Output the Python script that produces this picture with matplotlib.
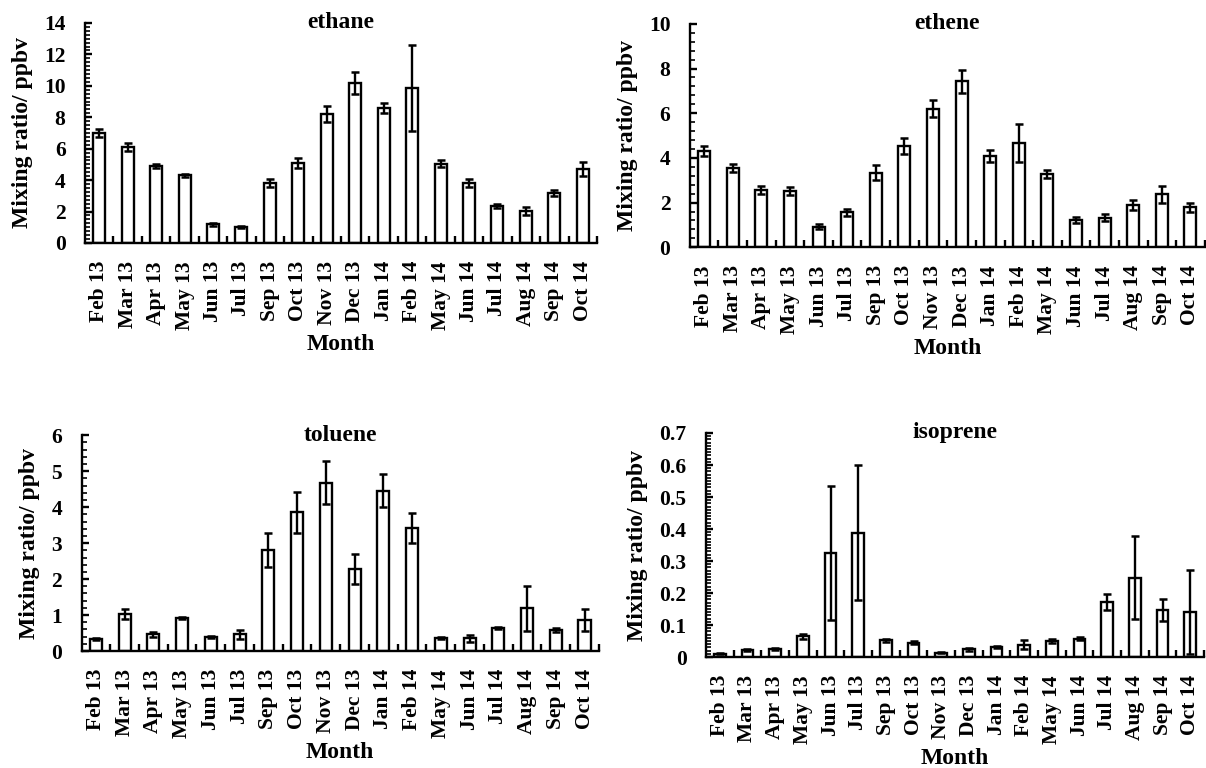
import numpy as np
import matplotlib
matplotlib.use('Agg')
import matplotlib.pyplot as plt
from matplotlib.ticker import MultipleLocator, FixedLocator, FuncFormatter

plt.rcParams['font.family'] = ['Liberation Serif', 'DejaVu Serif']
plt.rcParams['font.weight'] = 'bold'

# Months on the x axis (same for every panel)
months = ['Feb 13', 'Mar 13', 'Apr 13', 'May 13', 'Jun 13', 'Jul 13',
          'Sep 13', 'Oct 13', 'Nov 13', 'Dec 13', 'Jan 14', 'Feb 14',
          'May 14', 'Jun 14', 'Jul 14', 'Aug 14', 'Sep 14', 'Oct 14']

# Monthly mean mixing ratios (ppbv) and their error bars
ethane = [7.0, 6.1, 4.9, 4.3, 1.2, 1.0, 3.8, 5.1, 8.2, 10.2, 8.6, 9.85,
          5.05, 3.8, 2.35, 2.05, 3.2, 4.7]
ethane_err = [0.25, 0.25, 0.15, 0.12, 0.1, 0.06, 0.25, 0.3, 0.5, 0.7, 0.3, 2.75,
              0.2, 0.25, 0.15, 0.25, 0.2, 0.45]

ethene = [4.3, 3.55, 2.58, 2.52, 0.93, 1.57, 3.34, 4.54, 6.2, 7.42, 4.09, 4.66,
          3.28, 1.22, 1.33, 1.9, 2.37, 1.79]
ethene_err = [0.23, 0.18, 0.18, 0.17, 0.1, 0.15, 0.35, 0.37, 0.37, 0.5, 0.27, 0.85,
              0.17, 0.15, 0.16, 0.22, 0.39, 0.21]

toluene = [0.34, 1.04, 0.46, 0.93, 0.39, 0.46, 2.81, 3.86, 4.68, 2.29, 4.46, 3.43,
           0.36, 0.35, 0.64, 1.19, 0.59, 0.86]
toluene_err = [0.02, 0.14, 0.07, 0.03, 0.04, 0.12, 0.47, 0.57, 0.6, 0.42, 0.46, 0.42,
               0.03, 0.1, 0.04, 0.63, 0.05, 0.31]

isoprene = [0.010, 0.021, 0.024, 0.065, 0.325, 0.389, 0.052, 0.045, 0.014, 0.024,
            0.031, 0.039, 0.050, 0.057, 0.172, 0.248, 0.146, 0.141]
isoprene_err = [0.002, 0.003, 0.003, 0.008, 0.21, 0.21, 0.005, 0.004, 0.002, 0.004,
                0.004, 0.014, 0.007, 0.005, 0.024, 0.13, 0.035, 0.13]

# name, values, errors, y max, major step, minor step, axes rect
panels = [
    ('ethane', ethane, ethane_err, 14, 2, 0.25, [0.0705, 0.6836, 0.4245, 0.2865]),
    ('ethene', ethene, ethene_err, 10, 2, 0.4, [0.572, 0.678, 0.427, 0.291]),
    ('toluene', toluene, toluene_err, 6, 1, 0.2, [0.0676, 0.1523, 0.429, 0.281]),
    ('isoprene', isoprene, isoprene_err, 0.7, 0.1, 0.01, [0.5854, 0.1445, 0.413, 0.2917]),
]

fig = plt.figure(figsize=(12.06, 7.68), dpi=100)
x = np.arange(len(months))

for name, vals, err, ymax, step, minor, rect in panels:
    ax = fig.add_axes(rect)
    ax.bar(x, vals, width=0.42, color='white', edgecolor='black', linewidth=1.7,
           yerr=err, error_kw=dict(ecolor='black', elinewidth=1.7, capsize=3, capthick=1.8))
    ax.set_xlim(-0.5, len(months) - 0.5)
    ax.set_ylim(0, ymax)

    for side in ['top', 'right']:
        ax.spines[side].set_visible(False)
    for side in ['left', 'bottom']:
        ax.spines[side].set_linewidth(1.7)

    # x axis: labels at bar centres, short inward ticks between categories
    ax.set_xticks(x)
    ax.set_xticklabels(months, rotation=90)
    ax.tick_params(axis='x', which='major', length=0, pad=13, labelsize=15.5)
    ax.xaxis.set_minor_locator(FixedLocator(np.arange(0.5, len(months), 1)))
    ax.tick_params(axis='x', which='minor', direction='in', length=5, width=1.7)

    # y axis: inward major and minor ticks
    ax.yaxis.set_major_locator(MultipleLocator(step))
    ax.yaxis.set_minor_locator(MultipleLocator(minor))
    ax.yaxis.set_major_formatter(FuncFormatter(lambda v, p: '%g' % round(v, 3)))
    ax.tick_params(axis='y', which='major', direction='in', length=5, width=1.7,
                   pad=14, labelsize=15.5)
    ax.tick_params(axis='y', which='minor', direction='in', length=3.5, width=1.2)

    ax.set_ylabel('Mixing ratio/ ppbv', fontsize=17, fontweight='bold', labelpad=8)
    ax.set_xlabel('Month', fontsize=17, fontweight='bold', labelpad=3)
    ax.text(0.5, 1.0, name, transform=ax.transAxes, ha='center', va='center',
            fontsize=17, fontweight='bold')

fig.savefig('out.png', dpi=100)
